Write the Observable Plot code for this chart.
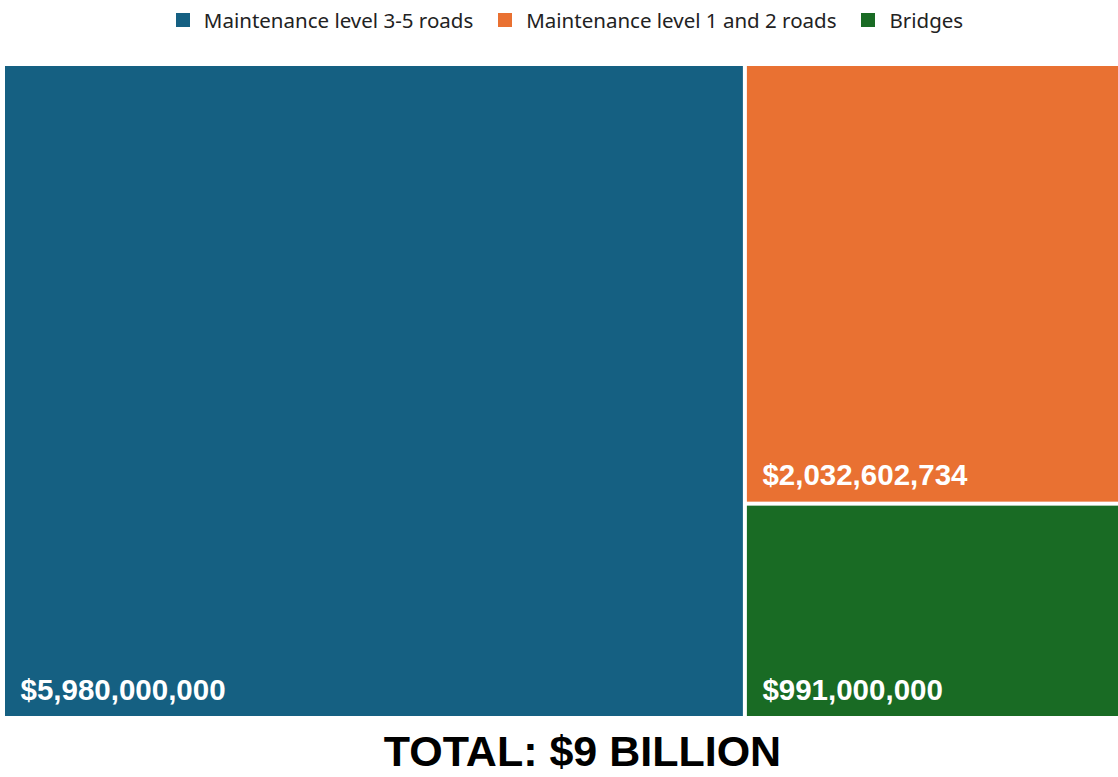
<!DOCTYPE html>
<html>
<head>
<meta charset="utf-8">
<script src="https://cdn.jsdelivr.net/npm/d3@7"></script>
<script src="https://cdn.jsdelivr.net/npm/@observablehq/plot@0.6"></script>
<style>
  html, body { margin: 0; padding: 0; background: #fff; }
  #legend { height: 40px; display: flex; justify-content: center; align-items: center; padding-left: 46px; }
  #legend > div { margin: 0 !important; min-height: 0 !important; }
  #legend span > svg { margin-right: 14px !important; }
  #legend span { margin-right: 25px !important; }
  #title { height: 57px; line-height: 57px; padding-top: 3px; padding-left: 47px; text-align: center; font-family: "Liberation Sans", Arial, sans-serif; font-weight: bold; font-size: 43px; color: #000; }
</style>
</head>
<body>
<div id="legend"></div>
<div id="chart"></div>
<div id="title">TOTAL: $9 BILLION</div>
<script>
const categories = ["Maintenance level 3-5 roads", "Maintenance level 1 and 2 roads", "Bridges"];
const values = [5980000000, 2032602734, 991000000];
const colors = ["#156082", "#E97132", "#196B24"];
const groups = ["left", "right", "right"];

const W = 1118, H = 680;
const x0 = 5, y0 = 26, tw = 1113, th = 650;

// hierarchy: root -> left(blue) , right(orange, green)
const groupNames = Array.from(new Set(groups));
const treeData = {
  name: "root",
  children: groupNames.map(g => ({
    name: g,
    children: categories.map((c, i) => ({name: c, value: values[i], group: groups[i]})).filter(d => d.group === g)
  }))
};
const root = d3.hierarchy(treeData).sum(d => d.value || 0);
d3.treemap().tile(d3.treemapSliceDice).size([tw, th]).paddingInner(4).round(false)(root);
const leaves = root.leaves().map(l => ({
  name: l.data.name, value: l.data.value,
  x0: l.x0 + x0, x1: l.x1 + x0, y0: l.y0 + y0, y1: l.y1 + y0
}));

const fmt = d3.format("$,");

const plot = Plot.plot({
  width: W, height: H,
  margin: 0,
  x: {domain: [0, W], range: [0, W], axis: null},
  y: {domain: [0, H], range: [0, H], axis: null},
  color: {domain: categories, range: colors},
  marks: [
    Plot.rect(leaves, {x1: "x0", x2: "x1", y1: "y0", y2: "y1", fill: "name"}),
    Plot.text(leaves, {
      x: d => d.x0 + 15, y: d => d.y1 - 17,
      text: d => fmt(d.value),
      fill: "white", fontSize: 29.5, fontWeight: "bold",
      fontFamily: "Liberation Sans, Arial, sans-serif",
      textAnchor: "start", lineAnchor: "bottom"
    })
  ]
});
document.getElementById("chart").appendChild(plot);

const legend = Plot.legend({
  color: {domain: categories, range: colors},
  legend: "swatches",
  swatchSize: 14,
  style: {fontSize: "20.5px", fontFamily: "'Noto Sans', sans-serif", color: "#222"}
});
document.getElementById("legend").appendChild(legend);
</script>
</body>
</html>
